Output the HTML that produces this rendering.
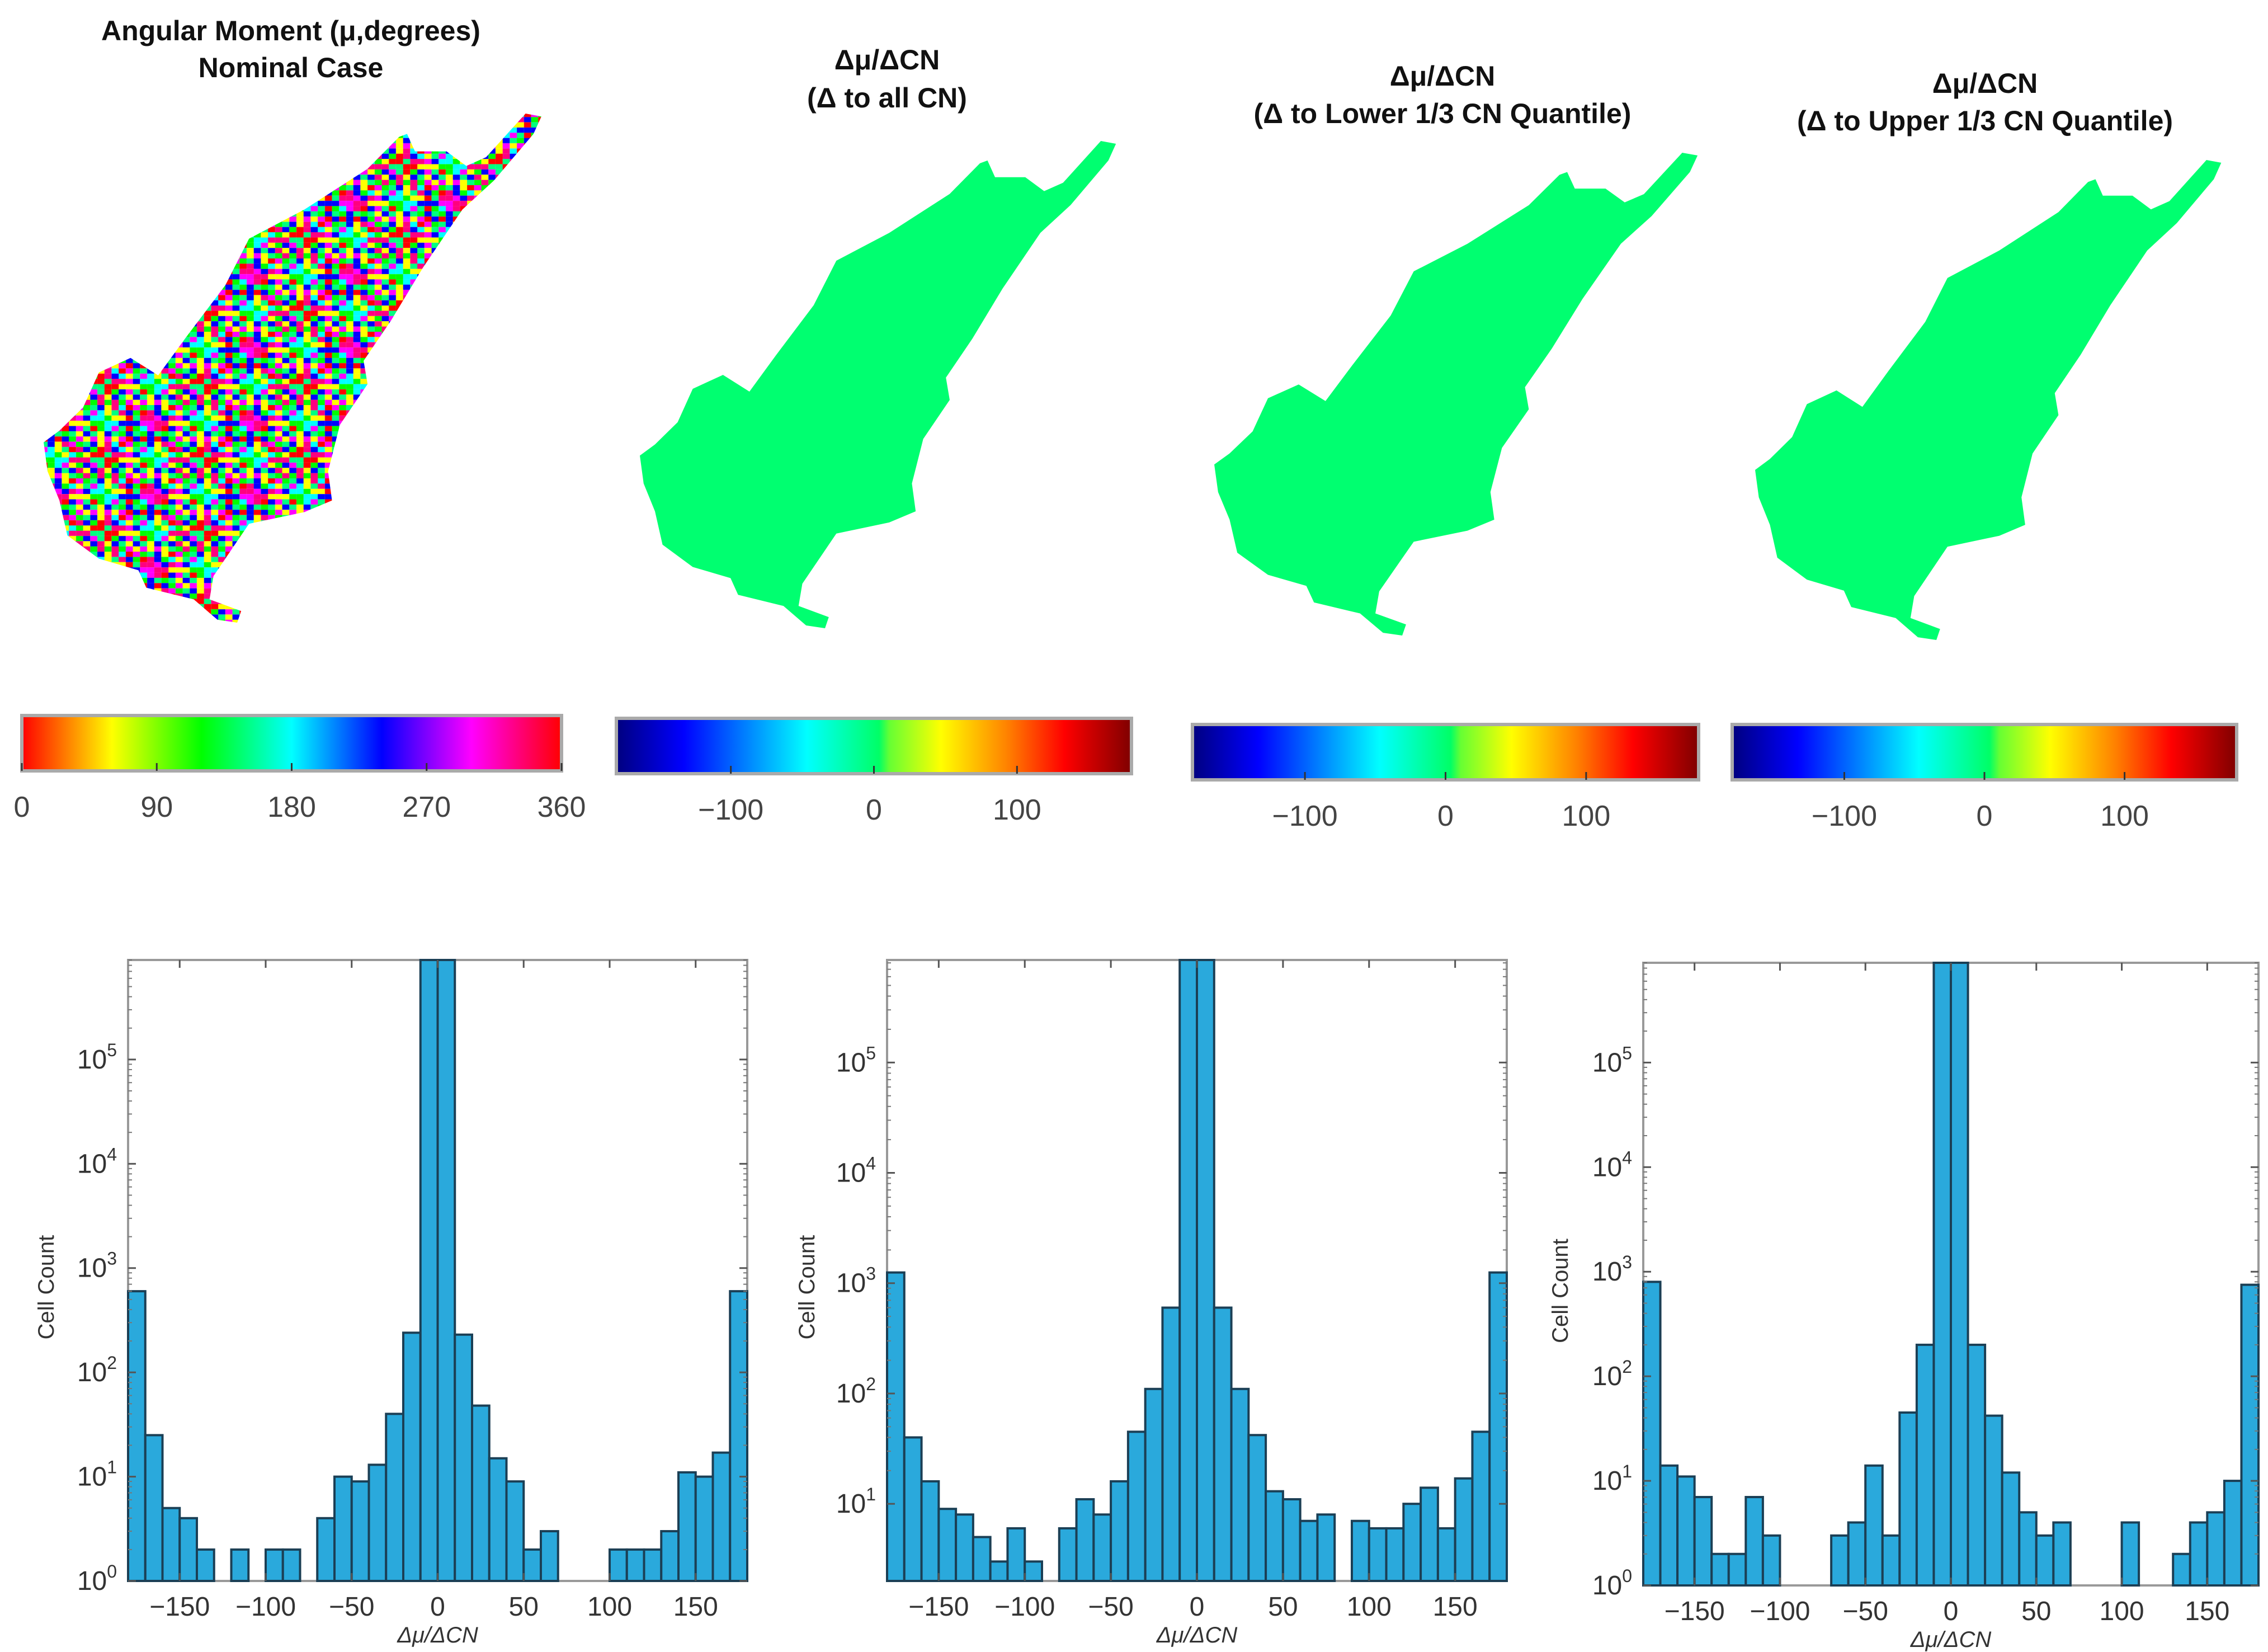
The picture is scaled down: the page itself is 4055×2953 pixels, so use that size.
<!DOCTYPE html>
<html><head><meta charset="utf-8">
<style>
html,body{margin:0;padding:0;background:#fff;}
svg{display:block;}
</style></head>
<body>
<svg id="fig" width="4055" height="2953" viewBox="0 0 4055 2953" xmlns="http://www.w3.org/2000/svg" font-family="Liberation Sans, sans-serif">
<defs>
  <pattern id="speckle" x="0" y="0" width="126" height="126" patternUnits="userSpaceOnUse"></pattern>
  <linearGradient id="hsvBar" x1="0" x2="1" y1="0" y2="0">
    <stop offset="0" stop-color="#ff0000"/><stop offset="0.167" stop-color="#ffff00"/>
    <stop offset="0.333" stop-color="#00ff00"/><stop offset="0.5" stop-color="#00ffff"/>
    <stop offset="0.667" stop-color="#0000ff"/><stop offset="0.833" stop-color="#ff00ff"/>
    <stop offset="1" stop-color="#ff0000"/>
  </linearGradient>
  <linearGradient id="jetBar" x1="0" x2="1" y1="0" y2="0">
    <stop offset="0" stop-color="#00007f"/><stop offset="0.13" stop-color="#0000ff"/>
    <stop offset="0.37" stop-color="#00ffff"/><stop offset="0.51" stop-color="#00ff66"/>
    <stop offset="0.53" stop-color="#66ff33"/><stop offset="0.63" stop-color="#ffff00"/>
    <stop offset="0.76" stop-color="#ff8000"/><stop offset="0.87" stop-color="#ff0000"/>
    <stop offset="1" stop-color="#7f0000"/>
  </linearGradient>
</defs>
</svg>
<script>
// ---- histogram data (bins of width 10 from -180 to 180) ----
const binEdgesStart = -180;
const binWidth = 10;
const hist1Counts = [600,25,5,4,2,0,2,0,2,2,0,4,10,9,13,40,240,900000,900000,230,48,15,9,2,3,0,0,0,2,2,2,3,11,10,17,600];
const hist2Counts = [1250,40,16,9,8,5,3,6,3,0,6,11,8,16,45,110,600,900000,900000,600,110,42,13,11,7,8,0,7,6,6,10,14,6,17,45,1250];
const hist3Counts = [800,14,11,7,2,2,7,3,0,0,0,3,4,14,3,45,200,900000,900000,200,42,12,5,3,4,0,0,0,4,0,0,2,4,5,10,750];
const xTickValues = [-150,-100,-50,0,50,100,150];
const yTickExps = [0,1,2,3,4,5];
const cb1Ticks = [0,90,180,270,360];
const cbJetTicks = [-100,0,100];

const NS = "http://www.w3.org/2000/svg";
const svg = document.getElementById('fig');
function mk(tag, attrs, parent){
  const e = document.createElementNS(NS, tag);
  for (const k in attrs) e.setAttribute(k, attrs[k]);
  (parent||svg).appendChild(e);
  return e;
}

// speckle texture tile for the nominal-case map
const hueCols = ['#ff0000','#ffff00','#00ff00','#00ffff','#0000ff','#ff00ff','#ff0080','#00ff80'];
const pat = document.getElementById('speckle');
for (let i=0;i<14;i++){ for (let j=0;j<14;j++){
  const idx = (i*5 + j*3 + ((i*j)%7)) % hueCols.length;
  mk('rect',{x:i*9,y:j*9,width:9,height:9,fill:hueCols[idx]},pat);
}}

// ---- titles ----
const titles = [
  {cx:520, y1:72, y2:138, l1:"Angular Moment (\u03BC,degrees)", l2:"Nominal Case"},
  {cx:1586, y1:124, y2:192, l1:"\u0394\u03BC/\u0394CN", l2:"(\u0394 to all CN)"},
  {cx:2579, y1:153, y2:220, l1:"\u0394\u03BC/\u0394CN", l2:"(\u0394 to Lower 1/3 CN Quantile)"},
  {cx:3549, y1:166, y2:233, l1:"\u0394\u03BC/\u0394CN", l2:"(\u0394 to Upper 1/3 CN Quantile)"}
];
titles.forEach((t,i)=>{
  [t.l1,t.l2].forEach((s,j)=>{
    const tx = mk('text',{x:t.cx,y:j?t.y2:t.y1,'text-anchor':'middle','font-size':50,'font-weight':'bold',
      'font-family':'Liberation Sans Narrow, Liberation Sans, sans-serif',fill:'#111'});
    tx.textContent = s;
    
    
  });
});

// ---- maps (shape outline) ----
const shapePts = "1480,260 1470,290 1420,370 1380,420 1330,520 1290,610 1255,680 1260,720 1225,790 1210,870 1215,920 1180,940 1110,960 1090,1000 1065,1050 1060,1090 1100,1110 1095,1130 1070,1125 1040,1090 980,1070 970,1040 920,1020 880,980 870,920 855,870 850,820 870,800 900,760 920,700 960,675 995,705 1030,640 1080,550 1110,470 1180,420 1260,350 1300,295 1310,290 1320,320 1360,320 1385,345 1410,330 1460,255";
const maps = [
  {x:78,y:203,w:897,h:910,fill:'url(#speckle)'},
  {x:1144,y:252,w:858,h:871,fill:'#00ff70'},
  {x:2171,y:273,w:871,h:863,fill:'#00ff70'},
  {x:3138,y:286,w:840,h:858,fill:'#00ff70'}
];
maps.forEach((m,i)=>{
  const g = mk('g',{transform:`translate(${m.x},${m.y}) scale(${m.w/635},${m.h/875}) translate(-850,-255)`});
  const p = mk('polygon',{points:shapePts,fill:m.fill},g);
  
  
});

// ---- colorbars ----
const cbs = [
  {x:39,y:1279,w:965,h:99,fill:'url(#hsvBar)',min:0,max:360,ticks:cb1Ticks},
  {x:1102,y:1284,w:921,h:99,fill:'url(#jetBar)',min:-180,max:180,ticks:cbJetTicks},
  {x:2132,y:1295,w:905,h:99,fill:'url(#jetBar)',min:-180,max:180,ticks:cbJetTicks},
  {x:3097,y:1295,w:902,h:99,fill:'url(#jetBar)',min:-180,max:180,ticks:cbJetTicks}
];
cbs.forEach((c,i)=>{
  const r = mk('rect',{x:c.x,y:c.y,width:c.w,height:c.h,fill:c.fill,stroke:'#aaa','stroke-width':6});
  
  
  c.ticks.forEach(v=>{
    const px = c.x + (v-c.min)/(c.max-c.min)*c.w;
    const t = mk('text',{x:px,y:c.y+c.h+82,'text-anchor':'middle','font-size':52,fill:'#444'});
    t.textContent = (v<0?'\u2212'+(-v):String(v));
    
    
    mk('line',{x1:px,x2:px,y1:c.y+c.h-14,y2:c.y+c.h,stroke:'#333','stroke-width':3});
  });
});

// ---- histograms ----
const hists = [
  {counts:hist1Counts,x0:229,x1:1336,y0:1716,y1:2826,ymin:1,ymax:9e5,ylx:96},
  {counts:hist2Counts,x0:1586,x1:2694,y0:1716,y1:2826,ymin:2,ymax:8.5e5,ylx:1456},
  {counts:hist3Counts,x0:2938,x1:4038,y0:1721,y1:2834,ymin:1,ymax:9e5,ylx:2803}
];
hists.forEach((h,hi)=>{
  const xs = v => h.x0 + (v+180)/360*(h.x1-h.x0);
  const ys = v => {
    const lv = Math.log10(Math.max(v,h.ymin)), l0 = Math.log10(h.ymin), l1 = Math.log10(h.ymax);
    const yy = h.y1 - (lv-l0)/(l1-l0)*(h.y1-h.y0);
    return Math.max(yy,h.y0);
  };
  const g = mk('g',{});
  
  
  mk('rect',{x:h.x0,y:h.y0,width:h.x1-h.x0,height:h.y1-h.y0,fill:'#fff',stroke:'#999','stroke-width':4},g);
  h.counts.forEach((c,k)=>{
    if (c<=0 || c<=h.ymin) return;
    const lo = binEdgesStart + k*binWidth;
    const bx = xs(lo), bx2 = xs(lo+binWidth), by = ys(c);
    const b = mk('rect',{x:bx,y:by,width:bx2-bx,height:h.y1-by,fill:'#2aa9dc',stroke:'#1b3f55','stroke-width':4},g);
    
    
  });
  xTickValues.forEach(v=>{
    const px = xs(v);
    mk('line',{x1:px,x2:px,y1:h.y1,y2:h.y1-14,stroke:'#555','stroke-width':3},g);
    mk('line',{x1:px,x2:px,y1:h.y0,y2:h.y0+14,stroke:'#555','stroke-width':3},g);
    const t = mk('text',{x:px,y:h.y1+62,'text-anchor':'middle','font-size':48,fill:'#333'},g);
    t.textContent = v<0?'\u2212'+(-v):String(v);
    
    
  });
  yTickExps.forEach(e=>{
    const val = Math.pow(10,e);
    if (val < h.ymin*0.999) return;
    const py = ys(val);
    mk('line',{x1:h.x0,x2:h.x0+14,y1:py,y2:py,stroke:'#555','stroke-width':3},g);
    mk('line',{x1:h.x1,x2:h.x1-14,y1:py,y2:py,stroke:'#555','stroke-width':3},g);
    const t = mk('text',{x:h.x0-20,y:py+16,'text-anchor':'end','font-size':48,fill:'#333'},g);
    t.textContent = '10';
    const sup = mk('tspan',{dy:-22,'font-size':32},t);
    sup.textContent = String(e);
    
    
    for (let m=2;m<10;m++){
      const mv = val*m;
      if (mv < h.ymin || mv > h.ymax) continue;
      const my = ys(mv);
      mk('line',{x1:h.x0,x2:h.x0+7,y1:my,y2:my,stroke:'#777','stroke-width':2},g);
      mk('line',{x1:h.x1,x2:h.x1-7,y1:my,y2:my,stroke:'#777','stroke-width':2},g);
    }
  });
  const xl = mk('text',{x:(h.x0+h.x1)/2,y:h.y1+110,'text-anchor':'middle','font-size':40,fill:'#333','font-style':'italic'},g);
  xl.textContent = '\u0394\u03BC/\u0394CN';
  
  
  const cy = (h.y0+h.y1)/2 + 30;
  const yl = mk('text',{x:h.ylx,y:cy,'text-anchor':'middle','font-size':40,fill:'#333',transform:`rotate(-90 ${h.ylx} ${cy})`},g);
  yl.textContent = 'Cell Count';
  
  
});
</script>
</body></html>
